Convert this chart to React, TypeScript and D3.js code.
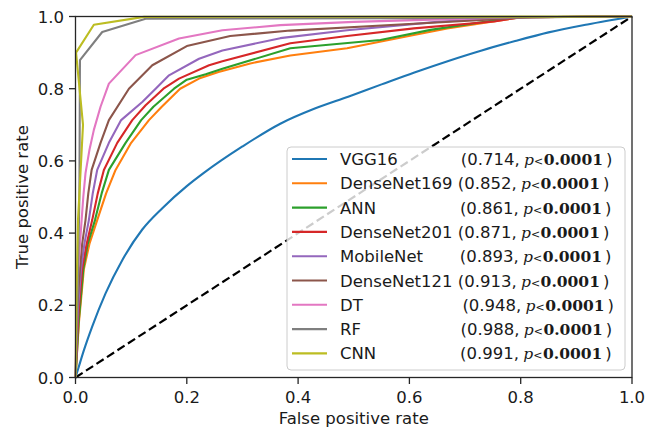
import React from 'react';
import * as d3 from 'd3';

type Pt = [number, number];

// ---- data ----
const modelNames = ['VGG16', 'DenseNet169', 'ANN', 'DenseNet201', 'MobileNet', 'DenseNet121', 'DT', 'RF', 'CNN'];
const aucValues = ['0.714', '0.852', '0.861', '0.871', '0.893', '0.913', '0.948', '0.988', '0.991'];
const pThreshold = '0.0001';
const labelPadding = [12, 1, 16, 1, 7, 1, 19, 19, 16];

const vgg16Roc: Pt[] = [[0,0],[0.005,0.025],[0.015,0.075],[0.03,0.141],[0.054,0.233],[0.084,0.325],[0.12,0.41],[0.156,0.469],[0.2,0.53],[0.23,0.566],[0.3,0.64],[0.368,0.703],[0.43,0.745],[0.49,0.778],[0.55,0.812],[0.609,0.845],[0.67,0.877],[0.73,0.906],[0.79,0.932],[0.85,0.956],[0.92,0.978],[1,1]];
const densenet169Roc: Pt[] = [[0,0],[0.006,0.15],[0.015,0.3],[0.025,0.37],[0.039,0.436],[0.055,0.51],[0.072,0.575],[0.1,0.65],[0.132,0.713],[0.155,0.75],[0.188,0.8],[0.222,0.828],[0.257,0.846],[0.314,0.87],[0.386,0.892],[0.488,0.912],[0.608,0.949],[0.668,0.967],[0.8,0.998],[1,1]];
const annRoc: Pt[] = [[0,0],[0.006,0.16],[0.014,0.3],[0.022,0.37],[0.035,0.436],[0.047,0.51],[0.06,0.575],[0.09,0.65],[0.118,0.713],[0.14,0.75],[0.177,0.8],[0.2,0.825],[0.234,0.84],[0.264,0.855],[0.386,0.912],[0.548,0.935],[0.638,0.963],[0.79,0.998],[1,1]];
const densenet201Roc: Pt[] = [[0,0],[0.005,0.17],[0.012,0.3],[0.02,0.37],[0.03,0.436],[0.04,0.51],[0.051,0.575],[0.075,0.65],[0.102,0.713],[0.126,0.754],[0.158,0.8],[0.186,0.828],[0.24,0.865],[0.264,0.876],[0.386,0.926],[0.488,0.946],[0.608,0.967],[0.752,0.986],[0.8,0.998],[1,1]];
const mobilenetRoc: Pt[] = [[0,0],[0.004,0.18],[0.01,0.3],[0.016,0.37],[0.024,0.436],[0.031,0.51],[0.039,0.575],[0.06,0.65],[0.082,0.713],[0.12,0.763],[0.144,0.8],[0.168,0.837],[0.222,0.883],[0.264,0.906],[0.368,0.94],[0.488,0.962],[0.65,0.985],[0.79,0.998],[1,1]];
const densenet121Roc: Pt[] = [[0,0],[0.003,0.2],[0.008,0.3],[0.012,0.37],[0.018,0.436],[0.023,0.51],[0.029,0.575],[0.045,0.65],[0.06,0.713],[0.096,0.8],[0.138,0.865],[0.2,0.918],[0.278,0.946],[0.386,0.961],[0.55,0.975],[0.82,0.998],[1,1]];
const dtRoc: Pt[] = [[0,0],[0.002,0.2],[0.005,0.3],[0.008,0.37],[0.011,0.436],[0.014,0.5],[0.018,0.566],[0.025,0.63],[0.033,0.686],[0.045,0.75],[0.06,0.814],[0.108,0.893],[0.186,0.939],[0.264,0.962],[0.368,0.976],[0.5,0.985],[0.79,0.998],[1,1]];
const rfRoc: Pt[] = [[0,0],[0.004,0.25],[0.007,0.5],[0.008,0.879],[0.048,0.957],[0.126,0.994],[0.6,0.995],[1,1]];
const cnnRoc: Pt[] = [[0,0],[0.002,0.25],[0.0045,0.436],[0.0135,0.7],[0.001,0.9],[0.033,0.977],[0.123,0.999],[1,1]];

const rocCurves = [vgg16Roc, densenet169Roc, annRoc, densenet201Roc, mobilenetRoc, densenet121Roc, dtRoc, rfRoc, cnnRoc];
const xTicks = [0, 0.2, 0.4, 0.6, 0.8, 1.0];
const yTicks = [0, 0.2, 0.4, 0.6, 0.8, 1.0];
const xLabel = 'False positive rate';
const yLabel = 'True positive rate';

// ---- styles ----
const colors = ['#1f77b4', '#ff7f0e', '#2ca02c', '#d62728', '#9467bd', '#8c564b', '#e377c2', '#7f7f7f', '#bcbd22'];
const W = 656, H = 428;
const sans = 'DejaVu Sans, sans-serif';
const serif = 'DejaVu Serif, serif';
const fs = 16.5;
const axisColor = '#262626';

export default function App() {
  const x = d3.scaleLinear().domain([0, 1]).range([75.5, 632]);
  const y = d3.scaleLinear().domain([0, 1]).range([377.5, 16.5]);
  const line = d3.line<Pt>().x(d => x(d[0])).y(d => y(d[1]));
  const smoothLine = d3.line<Pt>().x(d => x(d[0])).y(d => y(d[1])).curve(d3.curveMonotoneX);

  const legend = { x: 287, y: 147, w: 338, h: 223, row0: 159, rowH: 24.3 };

  return (
    <svg width={W} height={H} style={{ position: 'absolute', left: 0, top: 0, background: '#fff' }}
      xmlns="http://www.w3.org/2000/svg">
      <rect x={0} y={0} width={W} height={H} fill="#fff" />
      <defs>
        <clipPath id="plotclip">
          <rect x={x(0) - 1} y={y(1) - 2} width={x(1) - x(0) + 2} height={y(0) - y(1) + 3} />
        </clipPath>
      </defs>
      {/* diagonal */}
      <path d={line([[0, 0], [1, 1]]) || ''} stroke="#000" strokeWidth={2.2} strokeDasharray="8.5,4" fill="none" />
      {/* curves */}
      <g clipPath="url(#plotclip)">
        {rocCurves.map((pts, i) => (
          <path key={i} d={(i === 0 ? smoothLine(pts) : line(pts)) || ''} stroke={colors[i]} strokeWidth={2.1} fill="none" strokeLinejoin="round" />
        ))}
      </g>
      {/* frame */}
      <rect x={x(0)} y={y(1)} width={x(1) - x(0)} height={y(0) - y(1)} fill="none" stroke={axisColor} strokeWidth={1.3} />
      {/* x ticks */}
      {xTicks.map(t => (
        <g key={'x' + t}>
          <line x1={x(t)} x2={x(t)} y1={y(0)} y2={y(0) + 6.5} stroke={axisColor} strokeWidth={1.3} />
          <text x={x(t)} y={403} textAnchor="middle" fontFamily={sans} fontSize={fs} fill="#1a1a1a">{t.toFixed(1)}</text>
        </g>
      ))}
      {/* y ticks */}
      {yTicks.map(t => (
        <g key={'y' + t}>
          <line x1={x(0) - 6.5} x2={x(0)} y1={y(t)} y2={y(t)} stroke={axisColor} strokeWidth={1.3} />
          <text x={64} y={y(t) + 6} textAnchor="end" fontFamily={sans} fontSize={fs} fill="#1a1a1a">{t.toFixed(1)}</text>
        </g>
      ))}
      {/* axis labels */}
      <text x={(x(0) + x(1)) / 2} y={423.5} textAnchor="middle" fontFamily={sans} fontSize={fs} fill="#1a1a1a">{xLabel}</text>
      <text transform={`translate(27.5,${(y(0) + y(1)) / 2}) rotate(-90)`} textAnchor="middle" fontFamily={sans} fontSize={fs} fill="#1a1a1a">{yLabel}</text>
      {/* legend */}
      <rect x={legend.x} y={legend.y} width={legend.w} height={legend.h} rx={4} ry={4}
        fill="#fff" fillOpacity={0.8} stroke="#cccccc" strokeWidth={1} />
      {modelNames.map((name, i) => {
        const cy = legend.row0 + i * legend.rowH;
        return (
          <g key={name}>
            <line x1={292} x2={327} y1={cy} y2={cy} stroke={colors[i]} strokeWidth={2.1} />
            <text x={340} y={cy + 6} fontFamily={sans} fontSize={fs} fill="#1a1a1a" style={{ whiteSpace: 'pre' }} xmlSpace="preserve">
              {name + ' '.repeat(labelPadding[i]) + '(' + aucValues[i] + ', '}
              <tspan fontFamily={serif} fontStyle="italic" fontSize={15.5} dx={-1}>p</tspan>
              <tspan fontFamily={serif} fontSize={11} dx={0}>{'<'}</tspan>
              <tspan fontFamily={serif} fontWeight="bold" fontSize={15.5} dx={0.5}>{pThreshold}</tspan>
              <tspan fontFamily={sans} fontSize={fs} dx={3}>)</tspan>
            </text>
          </g>
        );
      })}
    </svg>
  );
}
